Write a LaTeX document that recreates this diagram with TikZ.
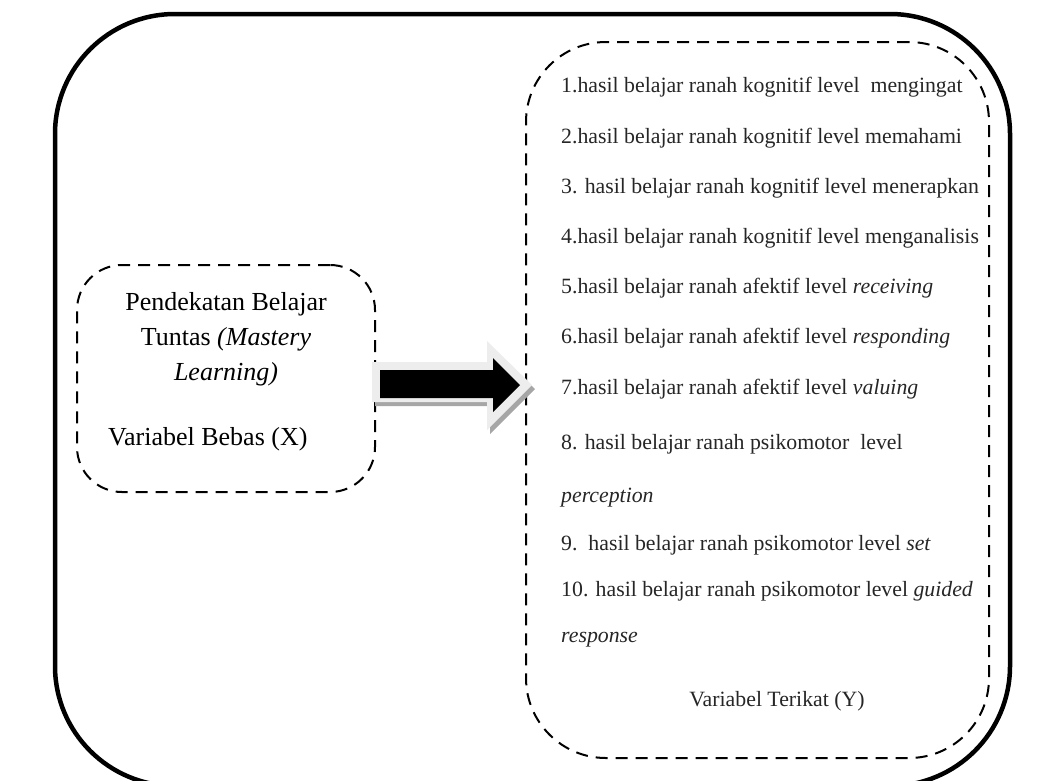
\documentclass[tikz,border=0pt]{standalone}
\usepackage{fontspec}
\setmainfont{Liberation Serif}
\begin{document}
\begin{tikzpicture}[x=1pt,y=-1pt,
  outerbox/.style={draw, line width=4.5pt, rounded corners=120pt},
  dashbox/.style={draw, line width=2pt, dash pattern=on 12pt off 8pt, rounded corners=#1, inner sep=0pt},
  lt/.style={font=\fontsize{26}{30}\selectfont, anchor=base, inner sep=0pt},
  rt/.style={font=\fontsize{21.8}{25}\selectfont, anchor=base west, inner sep=0pt, text=black!85},
  arrowshadow/.style={fill=black!35},
  arrowrim/.style={fill=black!7},
  arrowbody/.style={fill=black}]
\useasboundingbox (0,0) rectangle (1062,780);
\draw[outerbox] (55,14) rectangle (1010,786);
\node[dashbox=45pt, minimum width=298pt, minimum height=227pt] (X) at (226,378.5) {};
\node[dashbox=80pt, minimum width=463pt, minimum height=716pt] (Y) at (757.5,400) {};
% block arrow from X to Y
\fill[arrowshadow] (375,366) -- (490,366) -- (490,345) -- (535,389) -- (490,434) -- (490,406) -- (375,406) -- cycle;
\fill[arrowrim] (372,362) -- (487,362) -- (487,341) -- (532,385) -- (487,430) -- (487,402) -- (372,402) -- cycle;
\fill[arrowbody] (380,370) -- (493,370) -- (493,358) -- (520,385) -- (493,412) -- (493,398) -- (380,398) -- cycle;
% left texts
\node[lt] (x1) at (226,310) {Pendekatan Belajar};
\node[lt] (x2) at (226,345) {Tuntas \textit{(Mastery}};
\node[lt] (x3) at (226,380) {\textit{Learning)}};
\node[lt, anchor=base west] (x4) at (108,445) {Variabel Bebas (X)};
% right texts
\node[rt] (y1) at (561,92) {1.hasil belajar ranah kognitif level\ \ mengingat};
\node[rt] (y2) at (561,143) {2.hasil belajar ranah kognitif level memahami};
\node[rt] (y3) at (561,193) {3. hasil belajar ranah kognitif level menerapkan};
\node[rt] (y4) at (561,243) {4.hasil belajar ranah kognitif level menganalisis};
\node[rt] (y5) at (561,293) {5.hasil belajar ranah afektif level \textit{receiving}};
\node[rt] (y6) at (561,343) {6.hasil belajar ranah afektif level \textit{responding}};
\node[rt] (y7) at (561,394) {7.hasil belajar ranah afektif level \textit{valuing}};
\node[rt] (y8) at (561,449) {8. hasil belajar ranah psikomotor\ \ level};
\node[rt] (y8b) at (561,502) {\textit{perception}};
\node[rt] (y9) at (561,550) {9.\ \ hasil belajar ranah psikomotor level \textit{set}};
\node[rt] (y10) at (561,596) {10. hasil belajar ranah psikomotor level \textit{guided}};
\node[rt] (y10b) at (561,642) {\textit{response}};
\node[rt, anchor=base] (yv) at (777,706) {Variabel Terikat (Y)};
\end{tikzpicture}
\end{document}
